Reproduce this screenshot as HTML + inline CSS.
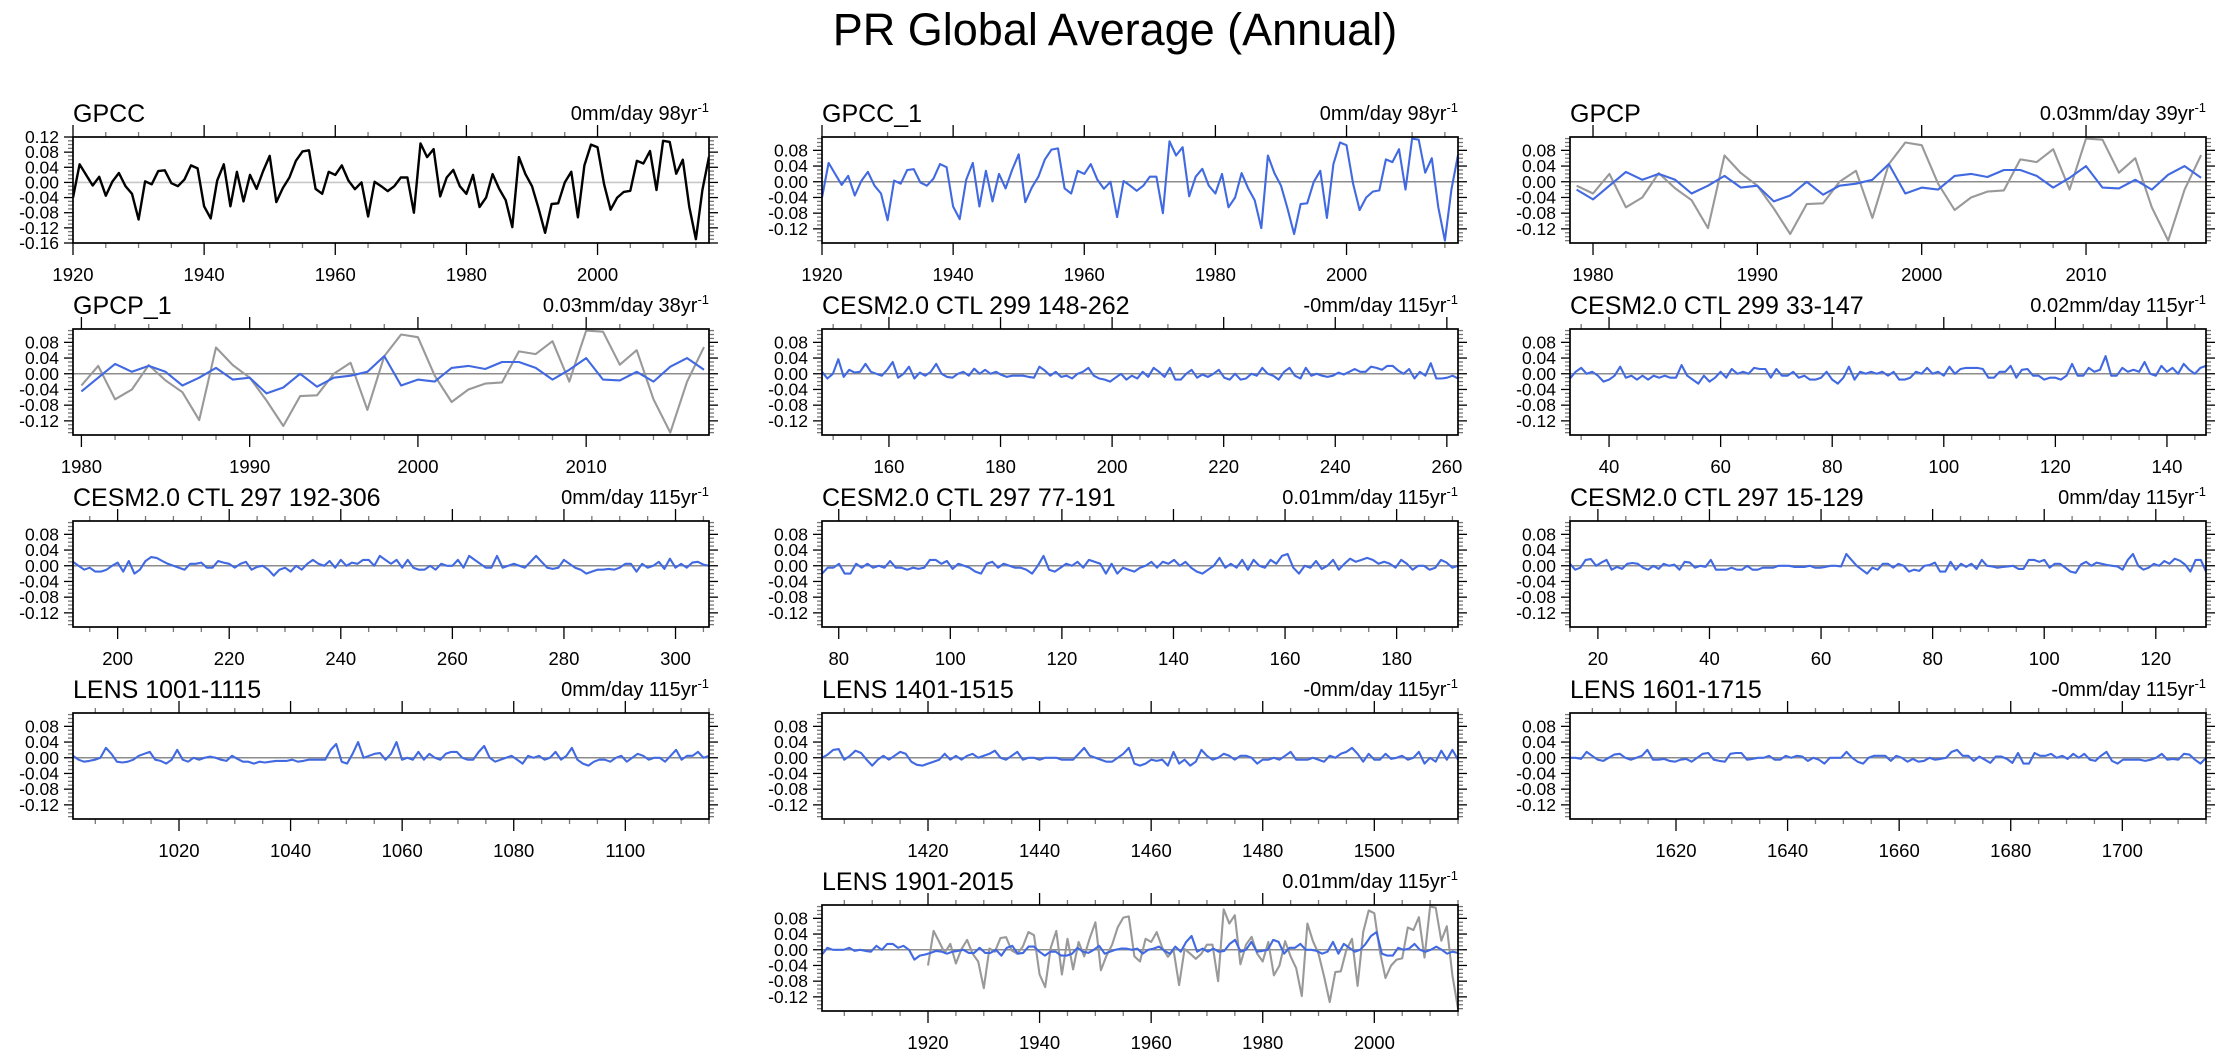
<!DOCTYPE html>
<html><head><meta charset="utf-8"><title>PR Global Average (Annual)</title>
<style>
html,body{margin:0;padding:0;background:#fff;}
svg{display:block;font-family:"Liberation Sans",Arial,sans-serif;}
</style></head>
<body>
<svg id="chart" width="2230" height="1057" viewBox="0 0 2230 1057" xmlns="http://www.w3.org/2000/svg">
<text x="1115" y="45" text-anchor="middle" font-size="45">PR Global Average (Annual)</text>
</svg>
<script>
// GPCC annual anomalies 1920-2017 (mm/day)
const gpccYears = [1920, 2017];
const gpccValues = [-0.04,0.048,0.02,-0.008,0.015,-0.035,0.002,0.025,-0.01,-0.03,
-0.098,0.003,-0.005,0.03,0.032,-0.002,-0.01,0.008,0.045,0.037,
-0.063,-0.095,0.005,0.048,-0.063,0.028,-0.05,0.02,-0.017,0.03,
0.07,-0.052,-0.015,0.013,0.057,0.082,0.085,-0.017,-0.03,0.028,
0.02,0.045,0.005,-0.018,0.0,-0.09,0.002,-0.01,-0.023,-0.01,
0.013,0.013,-0.08,0.103,0.067,0.088,-0.037,0.013,0.033,-0.01,
-0.03,0.02,-0.065,-0.04,0.022,-0.017,-0.047,-0.118,0.067,0.022,
-0.01,-0.068,-0.133,-0.057,-0.055,0.0,0.028,-0.092,0.045,0.1,
0.093,-0.005,-0.072,-0.04,-0.025,-0.022,0.057,0.05,0.083,-0.02,
0.11,0.107,0.023,0.06,-0.065,-0.15,-0.02,0.068];
// GPCP annual anomalies 1979-2017
const gpcpYears = [1979, 2017];
const gpcpValues = [-0.02,-0.045,-0.01,0.025,0.005,0.02,0.005,-0.03,-0.01,0.015,
-0.015,-0.01,-0.05,-0.035,0.0,-0.033,-0.01,-0.005,0.005,0.045,
-0.03,-0.015,-0.02,0.015,0.02,0.012,0.03,0.03,0.015,-0.015,
0.01,0.04,-0.015,-0.017,0.005,-0.02,0.018,0.04,0.01];
// model series (units of 0.001 mm/day)
const cesm299a = [5,-12,0,37,-8,10,3,5,25,5,0,-5,10,30,-10,0,18,-12,3,-5,5,25,0,-8,-10,0,5,-5,13,0,10,0,5,-3,-8,-5,-5,-5,-8,-10,18,8,-5,5,-8,-5,-12,0,5,15,-5,-12,-15,-20,-10,0,-15,-5,-12,5,-8,15,5,-8,15,-15,-15,0,10,-10,-2,-8,0,10,-10,-15,0,-15,-12,0,-5,15,0,-5,-15,5,15,-5,-12,15,-5,0,-5,-8,-5,3,-2,5,12,5,5,18,15,10,20,20,8,0,12,-12,5,-5,27,-12,-12,-10,-5,-12];
const cesm299b = [-12,5,15,0,5,-5,-20,-15,-5,18,-10,-5,-15,-5,-15,-5,-10,-5,-10,-10,22,-5,-15,-25,-5,-20,-10,5,-10,12,0,5,0,15,12,12,-10,12,-5,-5,5,-10,-5,-15,-15,-10,5,-15,-25,-10,18,-15,5,0,5,0,5,-5,5,-15,-15,-10,5,0,15,0,5,-5,18,0,12,15,15,15,12,-10,-10,5,5,20,-10,10,12,-5,-5,-15,-10,-10,-15,-5,25,-5,-5,15,5,10,45,-5,-5,15,5,10,5,30,0,-5,20,5,15,0,25,10,0,15,20];
const cesm297a = [10,0,-10,-5,-15,-15,-10,0,8,-15,12,-20,-10,12,22,20,12,5,0,-5,-10,5,5,8,-5,-5,12,8,5,-5,5,10,-10,-3,0,-10,-25,-10,-5,-15,0,-10,5,15,5,0,12,-5,15,0,8,5,15,15,0,25,15,5,15,-5,15,-5,-10,-10,0,-10,5,0,0,15,-5,25,15,5,-5,-5,25,-5,0,5,0,-5,10,25,10,-5,-8,-5,15,5,-5,-10,-20,-15,-10,-10,-8,-10,-5,5,5,-15,5,-5,0,10,-8,18,-5,5,-5,8,10,3,0];
const cesm297b = [-20,-5,-5,5,-20,-20,5,-5,5,-5,0,-5,12,-5,-5,-10,-5,-8,-5,15,15,5,12,-8,5,0,-5,-15,-20,5,10,-5,5,0,-5,-5,-10,-20,0,25,-10,-15,-5,5,0,10,-5,15,10,5,-20,5,-20,-5,-10,-15,-5,0,10,-5,10,5,15,0,10,-5,-15,-20,-10,0,20,-5,5,-5,15,-10,15,0,-5,15,5,25,30,-5,-20,0,-5,12,-8,0,15,-10,5,18,10,15,20,15,5,10,5,-5,15,5,-10,0,0,-10,-5,15,8,-5,0];
const cesm297c = [5,-10,-5,15,17,0,8,15,-10,-3,-8,5,7,5,-5,-10,0,-8,5,0,3,-10,10,8,-5,0,-3,15,-10,-10,-10,-5,-10,-10,0,-10,-10,-5,-5,-5,0,0,0,-3,-3,-3,0,-5,-5,-3,0,0,-2,30,15,0,-10,-20,-5,-10,5,5,-5,5,0,-15,-10,-13,0,2,8,-15,-15,10,-10,5,-3,5,-8,15,0,-2,-5,-3,-2,0,-8,-8,15,15,10,15,-5,5,5,-5,-15,-18,3,10,0,8,5,2,0,-2,-10,15,30,0,-10,-5,5,0,12,5,18,13,3,-15,15,15,-15];
const lens1001 = [5,-5,-10,-8,-5,0,25,10,-10,-12,-10,-5,5,10,15,-5,-8,-15,-5,20,-5,-10,0,-5,0,3,0,-5,-8,5,-3,-10,-10,-15,-10,-12,-10,-8,-8,-8,-5,-10,-8,-5,-5,-5,-5,20,35,-10,-15,10,40,0,5,10,12,-5,10,40,-5,0,-5,15,-5,10,0,-5,10,15,15,0,-5,-5,15,30,0,-10,-5,0,5,-5,-15,5,0,5,-5,0,15,-5,5,25,-5,-15,-20,-10,-5,-5,-10,0,5,-10,0,10,5,-5,0,0,-10,5,20,-5,5,5,15,0,5];
const lens1401 = [0,8,20,22,-5,5,18,12,-5,-20,-5,5,-5,5,15,10,-10,-18,-20,-15,-10,-5,10,-5,5,-5,5,10,0,5,10,18,0,-5,5,15,-5,0,0,-5,0,0,0,-5,-5,-5,10,25,5,0,-5,-10,-10,0,10,25,-15,-20,-15,-5,-8,-5,-20,15,-15,-5,-20,-10,20,5,-5,0,10,5,-5,5,5,0,-15,-5,-5,0,-5,5,15,-5,-5,-5,0,-5,-10,5,0,10,15,25,10,-10,10,-5,-5,10,-3,0,5,-5,0,15,-15,0,-10,18,-5,20,-5];
const lens1601 = [0,0,-3,15,5,-5,-8,0,8,10,0,-5,0,5,20,-5,-5,-3,-8,-10,-5,-3,-10,0,10,12,-5,-8,-10,10,12,12,-5,-3,0,0,5,-5,-5,5,0,5,3,-8,0,-5,-15,0,0,0,15,0,-10,-15,0,5,5,5,-8,5,0,-10,-3,-10,-8,0,-5,-3,0,15,20,5,5,-8,3,-5,-13,3,3,-3,-13,12,-15,-15,12,5,5,10,0,5,-3,10,0,10,-5,-8,5,15,-8,-15,-5,-5,-5,-5,-8,-5,0,10,-5,-3,-5,10,8,-5,-15,0];
const lens1901 = [-12,5,0,0,0,5,-3,0,-3,-5,10,0,15,15,5,10,0,-25,-15,-12,-8,-3,-5,-10,-5,-3,0,-8,-8,5,-8,-8,0,-15,5,10,-10,-8,8,8,-5,-15,-5,-5,-15,-15,-10,5,-5,-8,0,10,-10,-5,0,3,3,0,3,-10,0,3,8,-3,-10,8,-5,20,35,-5,3,-5,3,-5,-3,15,25,-5,0,20,-5,-3,0,25,20,-10,5,5,15,0,0,-3,-10,-5,20,-10,15,5,-5,0,15,35,45,-10,-15,-15,5,0,3,15,0,-5,0,8,0,-10,-5,-8];
const yTickLabelsStd = ["0.08","0.04","0.00","-0.04","-0.08","-0.12"];
const yTickLabelsGpcc = ["0.12","0.08","0.04","0.00","-0.04","-0.08","-0.12","-0.16"];

const NS = "http://www.w3.org/2000/svg";
const svg = document.getElementById('chart');
const COLX = [73, 822, 1570], ROWY = [137, 329, 521, 713, 905], PW = 636, PH = 106;
const BLUE = "#4169e1", GRAY = "#999999";

function mk(tag, attrs, parent) {
  const e = document.createElementNS(NS, tag);
  for (const k in attrs) e.setAttribute(k, attrs[k]);
  (parent || svg).appendChild(e);
  return e;
}
function scaled(arr) { return arr.map(v => v / 1000); }

const panels = [
  {name:"GPCC", right:"0mm/day 98yr", c:0, r:0, x0:1920, x1:2017, maj:20, first:1920, min:5, gpcc:true,
   series:[{st:1920, v:gpccValues, col:"#000000"}]},
  {name:"GPCC_1", right:"0mm/day 98yr", c:1, r:0, x0:1920, x1:2017, maj:20, first:1920, min:5,
   series:[{st:1920, v:gpccValues, col:BLUE}]},
  {name:"GPCP", right:"0.03mm/day 39yr", c:2, r:0, x0:1978.6, x1:2017.3, maj:10, first:1980, min:2,
   series:[{st:1979, v:gpccValues.slice(59), col:GRAY},{st:1979, v:gpcpValues, col:BLUE}]},
  {name:"GPCP_1", right:"0.03mm/day 38yr", c:0, r:1, x0:1979.5, x1:2017.3, maj:10, first:1980, min:2,
   series:[{st:1980, v:gpccValues.slice(60), col:GRAY},{st:1980, v:gpcpValues.slice(1), col:BLUE}]},
  {name:"CESM2.0 CTL 299 148-262", right:"-0mm/day 115yr", c:1, r:1, x0:148, x1:262, maj:20, first:160, min:5,
   series:[{st:148, en:262, v:scaled(cesm299a), col:BLUE}]},
  {name:"CESM2.0 CTL 299 33-147", right:"0.02mm/day 115yr", c:2, r:1, x0:33, x1:147, maj:20, first:40, min:5,
   series:[{st:33, en:147, v:scaled(cesm299b), col:BLUE}]},
  {name:"CESM2.0 CTL 297 192-306", right:"0mm/day 115yr", c:0, r:2, x0:192, x1:306, maj:20, first:200, min:5,
   series:[{st:192, en:306, v:scaled(cesm297a), col:BLUE}]},
  {name:"CESM2.0 CTL 297 77-191", right:"0.01mm/day 115yr", c:1, r:2, x0:77, x1:191, maj:20, first:80, min:5,
   series:[{st:77, en:191, v:scaled(cesm297b), col:BLUE}]},
  {name:"CESM2.0 CTL 297 15-129", right:"0mm/day 115yr", c:2, r:2, x0:15, x1:129, maj:20, first:20, min:5,
   series:[{st:15, en:129, v:scaled(cesm297c), col:BLUE}]},
  {name:"LENS 1001-1115", right:"0mm/day 115yr", c:0, r:3, x0:1001, x1:1115, maj:20, first:1020, min:5,
   series:[{st:1001, en:1115, v:scaled(lens1001), col:BLUE}]},
  {name:"LENS 1401-1515", right:"-0mm/day 115yr", c:1, r:3, x0:1401, x1:1515, maj:20, first:1420, min:5,
   series:[{st:1401, en:1515, v:scaled(lens1401), col:BLUE}]},
  {name:"LENS 1601-1715", right:"-0mm/day 115yr", c:2, r:3, x0:1601, x1:1715, maj:20, first:1620, min:5,
   series:[{st:1601, en:1715, v:scaled(lens1601), col:BLUE}]},
  {name:"LENS 1901-2015", right:"0.01mm/day 115yr", c:1, r:4, x0:1901, x1:2015, maj:20, first:1920, min:5,
   series:[{st:1920, v:gpccValues, col:GRAY},{st:1901, en:2015, v:scaled(lens1901), col:BLUE}]}
];

panels.forEach((p, idx) => {
  const bx = COLX[p.c], by = ROWY[p.r];
  const y0 = p.gpcc ? -0.16 : -0.156, y1 = p.gpcc ? 0.12 : 0.114;
  const slug = p.name.toLowerCase().replace(/[^a-z0-9]+/g, '-');
  const g = mk('g', {});
  
  
  const X = x => bx + (x - p.x0) / (p.x1 - p.x0) * PW;
  const Y = y => by + (y1 - y) / (y1 - y0) * PH;

  const t = mk('text', {x: bx, y: by - 15, 'font-size': 25}, g);
  t.textContent = p.name;
  
  
  const rt = mk('text', {x: bx + PW, y: by - 17, 'font-size': 20, 'text-anchor': 'end'}, g);
  
  
  rt.appendChild(document.createTextNode(p.right));
  const sup = mk('tspan', {'font-size': 13, dy: -8}, rt);
  sup.textContent = '-1';

  const cp = mk('clipPath', {id: 'clip' + idx}, g);
  mk('rect', {x: bx, y: by, width: PW, height: PH}, cp);

  const labels = p.gpcc ? yTickLabelsGpcc : yTickLabelsStd;
  for (let k = -16; k <= 12; k++) {
    const v = k / 100;
    if (v < y0 - 1e-9 || v > y1 + 1e-9) continue;
    const yy = Y(v), major = (k % 4 === 0);
    const len = major ? 9 : 5, col = major ? '#000' : '#777';
    mk('line', {x1: bx - len, x2: bx, y1: yy, y2: yy, stroke: col, 'stroke-width': 1.3}, g);
    mk('line', {x1: bx + PW, x2: bx + PW + len, y1: yy, y2: yy, stroke: col, 'stroke-width': 1.3}, g);
  }
  labels.forEach(lab => {
    const yy = Y(parseFloat(lab));
    const tl = mk('text', {x: bx - 14, y: yy + 6, 'font-size': 17.5, 'text-anchor': 'end'}, g);
    tl.textContent = lab;
    
    
  });

  const startMin = Math.ceil(p.x0 / p.min) * p.min;
  for (let v = startMin; v <= p.x1 + 1e-9; v += p.min) {
    const xx = X(v), major = ((v - p.first) % p.maj === 0);
    const len = major ? 12 : 5, col = major ? '#000' : '#777';
    mk('line', {x1: xx, x2: xx, y1: by - len, y2: by, stroke: col, 'stroke-width': 1.3}, g);
    mk('line', {x1: xx, x2: xx, y1: by + PH, y2: by + PH + len, stroke: col, 'stroke-width': 1.3}, g);
    if (major) {
      const xl = mk('text', {x: xx, y: by + PH + 38, 'font-size': 18.5, 'text-anchor': 'middle'}, g);
      xl.textContent = String(v);
      
      
    }
  }

  const zl = mk('line', {x1: bx, x2: bx + PW, y1: Y(0), y2: Y(0), stroke: p.gpcc ? '#c8c8c8' : '#8c8c8c', 'stroke-width': 1.6}, g);
  
  

  p.series.forEach(s => {
    const n = s.v.length;
    const step = (s.en !== undefined) ? (s.en - s.st) / (n - 1) : 1;
    const pts = s.v.map((v, i) => X(s.st + i * step).toFixed(1) + ',' + Y(v).toFixed(1)).join(' ');
    const pl = mk('polyline', {points: pts, fill: 'none', stroke: s.col, 'stroke-width': s.col === '#000000' ? 2.4 : 2.1, 'stroke-linejoin': 'round', 'clip-path': 'url(#clip' + idx + ')'}, g);
    
    
  });

  const fr = mk('rect', {x: bx, y: by, width: PW, height: PH, fill: 'none', stroke: '#000', 'stroke-width': 1.7}, g);
  
  
});
</script>
</body></html>
